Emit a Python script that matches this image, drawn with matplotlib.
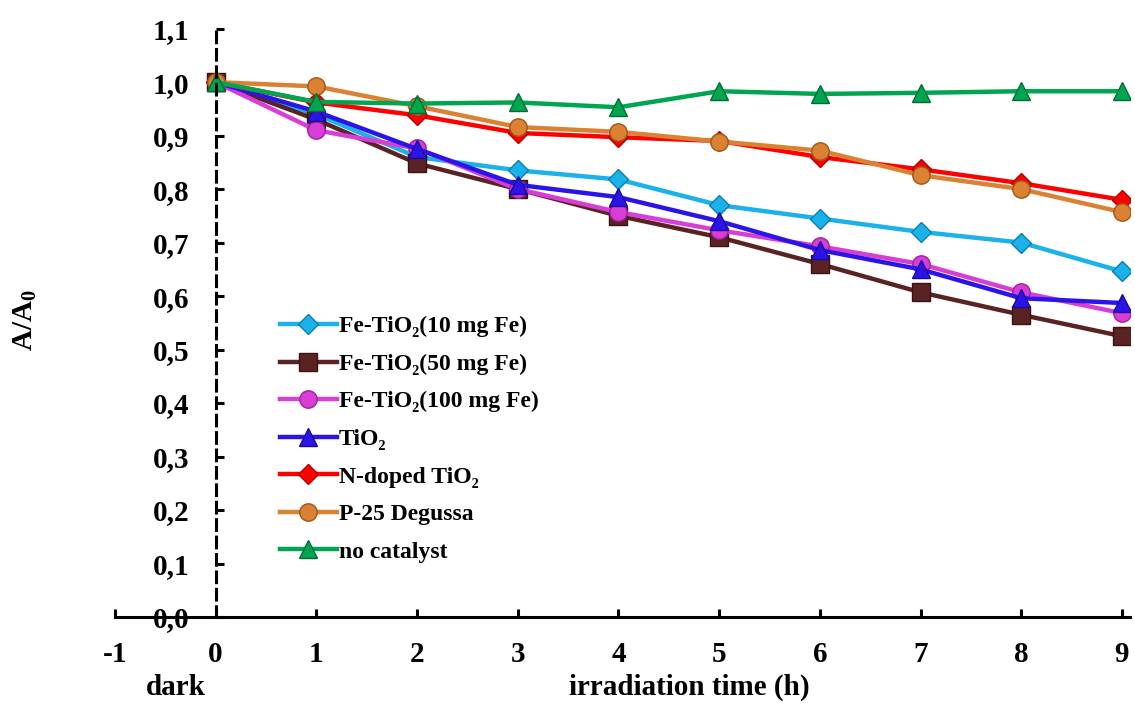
import matplotlib
matplotlib.use('Agg')
import matplotlib.pyplot as plt

plt.rcParams['font.family'] = ['Liberation Serif', 'DejaVu Serif']
plt.rcParams['font.weight'] = 'bold'
plt.rcParams['mathtext.fontset'] = 'custom'
plt.rcParams['mathtext.rm'] = 'Liberation Serif:bold'
plt.rcParams['mathtext.bf'] = 'Liberation Serif:bold'
plt.rcParams['mathtext.it'] = 'Liberation Serif:bold'

time_h = [0, 1, 2, 3, 4, 5, 6, 7, 8, 9]

fe10 = [1.0, 0.94, 0.86, 0.835, 0.818, 0.77, 0.745, 0.72, 0.70, 0.646]
fe50 = [1.0, 0.93, 0.848, 0.80, 0.75, 0.71, 0.66, 0.607, 0.565, 0.525]
fe100 = [1.0, 0.91, 0.876, 0.80, 0.757, 0.723, 0.693, 0.66, 0.607, 0.568]
tio2 = [1.0, 0.945, 0.875, 0.808, 0.785, 0.74, 0.686, 0.65, 0.596, 0.587]
ndoped = [1.0, 0.962, 0.938, 0.905, 0.897, 0.89, 0.86, 0.837, 0.811, 0.78]
p25 = [1.0, 0.992, 0.955, 0.916, 0.907, 0.889, 0.872, 0.826, 0.80, 0.757]
nocat = [1.0, 0.963, 0.96, 0.962, 0.953, 0.983, 0.978, 0.98, 0.983, 0.983]

labels = ['Fe-TiO₂(10 mg Fe)', 'Fe-TiO₂(50 mg Fe)', 'Fe-TiO₂(100 mg Fe)',
          'TiO₂', 'N-doped TiO₂', 'P-25 Degussa', 'no catalyst']

x_ticks = [-1, 0, 1, 2, 3, 4, 5, 6, 7, 8, 9]
y_ticks = [0.0, 0.1, 0.2, 0.3, 0.4, 0.5, 0.6, 0.7, 0.8, 0.9, 1.0, 1.1]

# series style: line colour, marker, marker edge
styles = [
    ('#1AB2E8', 'D', '#0B7FB0'),
    ('#5A2323', 's', '#3A1212'),
    ('#D83ED6', 'o', '#A0209E'),
    ('#2A14E6', '^', '#1A0A9A'),
    ('#FF0000', 'D', '#B00000'),
    ('#DB8132', 'o', '#A0561A'),
    ('#00A550', '^', '#006E33'),
]
series = [fe10, fe50, fe100, tio2, ndoped, p25, nocat]

fig = plt.figure(figsize=(11.35, 7.04), dpi=100)
ax = fig.add_axes([0.1013, 0.1236, 0.8943, 0.8395])

for vals, lab, (col, mk, ec) in zip(series, labels, styles):
    ax.plot(time_h, vals, color=col, lw=3.2, marker=mk, markersize=12.5 if mk != 'D' else 10.5,
            markerfacecolor=col, markeredgecolor=ec, markeredgewidth=1.0, label=lab)

ax.set_xlim(-1, 9.08)
ax.set_ylim(0, 1.105)

ax.spines['top'].set_visible(False)
ax.spines['right'].set_visible(False)
ax.spines['left'].set_position(('data', 0))
ax.spines['left'].set_linestyle((0, (3.5, 2.2)))
ax.spines['left'].set_linewidth(2.2)
ax.spines['bottom'].set_linewidth(2.2)

ax.set_xticks(x_ticks)
ax.set_xticklabels([str(v) for v in x_ticks])
ax.set_yticks(y_ticks)
ax.set_yticklabels([('%.1f' % v).replace('.', ',') for v in y_ticks])
ax.tick_params(axis='both', direction='in', length=6, width=2.2, labelsize=21)
ax.tick_params(axis='y', pad=19)
ax.tick_params(axis='x', pad=17)
for t in ax.get_xticklabels() + ax.get_yticklabels():
    t.set_fontweight('bold')

fig.text(0.022, 0.545, 'A/A$_\\mathregular{0}$', rotation=90, fontsize=21, fontweight='bold',
         ha='center', va='center')
fig.text(0.155, 0.023, 'dark', fontsize=21, fontweight='bold', ha='center', va='center')
fig.text(0.607, 0.023, 'irradiation time (h)', fontsize=21, fontweight='bold', ha='center', va='center')

leg = ax.legend(loc='upper left', bbox_to_anchor=(0.2385, 0.565), bbox_transform=fig.transFigure,
                frameon=False, fontsize=17, handlelength=2.4, labelspacing=0.68,
                handletextpad=0.1, borderaxespad=0)
for t in leg.get_texts():
    t.set_fontweight('bold')

fig.savefig('out.png', dpi=100)
